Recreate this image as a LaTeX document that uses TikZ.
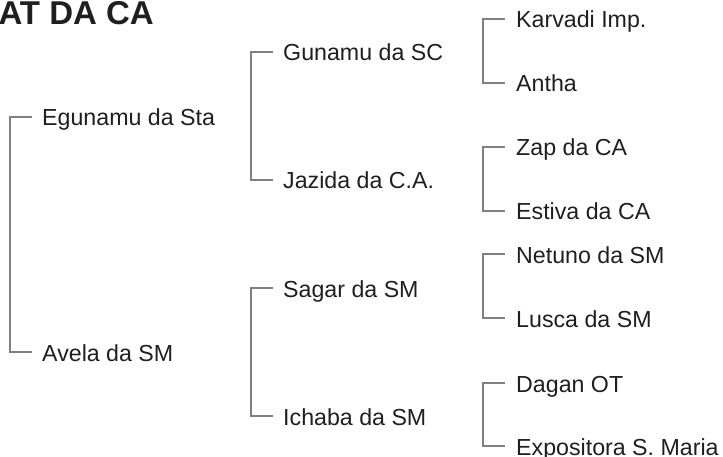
\documentclass[tikz,border=0pt]{standalone}
\usepackage{fontspec}
\setmainfont{Liberation Sans}
\begin{document}
\begin{tikzpicture}[x=1pt,y=-1pt,
  person/.style={anchor=west,inner sep=0pt,text height=20pt,text depth=2pt,
    font=\fontsize{23.2}{26}\selectfont,text=black!88},
  conn/.style={draw=black!50,line width=1.3pt},
  titlestyle/.style={anchor=base east,inner sep=0pt,font=\fontsize{33}{36}\selectfont\bfseries,text=black!88}]
\useasboundingbox (0,0) rectangle (723,457);
\node[titlestyle] (title) at (154,25) {AT DA CA};
% level 1
\node[person] (e1) at (42,117) {Egunamu da Sta};
\node[person] (a1) at (42,352) {Avela da SM};
% level 2
\node[person] (g2) at (283,52) {Gunamu da SC};
\node[person] (j2) at (283,180) {Jazida da C.A.};
\node[person] (s2) at (283,288) {Sagar da SM};
\node[person] (i2) at (283,416) {Ichaba da SM};
% level 3
\node[person] (k3) at (516,19) {Karvadi Imp.};
\node[person] (an3) at (516,83) {Antha};
\node[person] (z3) at (516,147) {Zap da CA};
\node[person] (es3) at (516,211) {Estiva da CA};
\node[person] (n3) at (516,254) {Netuno da SM};
\node[person] (l3) at (516,318) {Lusca da SM};
\node[person] (d3) at (516,383) {Dagan OT};
\node[person] (ex3) at (516,446) {Expositora S. Maria};
% brackets
\draw[conn] ([xshift=-10pt]e1.west) -- ++(-22,0) |- ([xshift=-10pt]a1.west);
\draw[conn] ([xshift=-10pt]g2.west) -- ++(-22,0) |- ([xshift=-10pt]j2.west);
\draw[conn] ([xshift=-10pt]s2.west) -- ++(-22,0) |- ([xshift=-10pt]i2.west);
\draw[conn] ([xshift=-11pt]k3.west) -- ++(-22,0) |- ([xshift=-11pt]an3.west);
\draw[conn] ([xshift=-11pt]z3.west) -- ++(-22,0) |- ([xshift=-11pt]es3.west);
\draw[conn] ([xshift=-11pt]n3.west) -- ++(-22,0) |- ([xshift=-11pt]l3.west);
\draw[conn] ([xshift=-11pt]d3.west) -- ++(-22,0) |- ([xshift=-11pt]ex3.west);
\end{tikzpicture}
\end{document}
